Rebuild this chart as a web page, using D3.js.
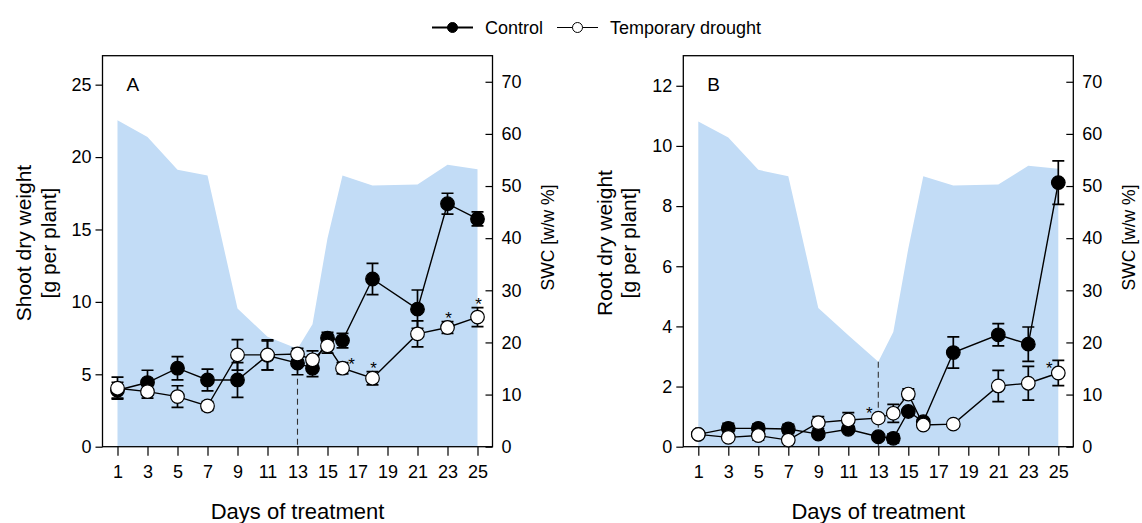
<!DOCTYPE html>
<html>
<head>
<meta charset="utf-8">
<script src="https://cdn.jsdelivr.net/npm/d3@7"></script>
<style>
body { margin: 0; background: #fff; }
svg { font-family: "Liberation Sans", Arial, sans-serif; }
</style>
</head>
<body>
<svg id="chart" width="1142" height="523"></svg>
<script>
// sampling days and x tick labels
var days = [1, 3, 5, 7, 9, 11, 13, 14, 15, 16, 18, 21, 23, 25];
var tickDays = [1, 3, 5, 7, 9, 11, 13, 15, 17, 19, 21, 23, 25];

// soil water content (w/w %), background area
var swcA = [62.6, 59.4, 53.1, 52.0, 26.5, 21.1, 18.8, 23.5, 40, 52.0, 50.1, 50.3, 54.1, 53.2];
var swcB = [62.4, 59.3, 53.1, 51.9, 26.6, 21.4, 16.3, 22.0, 38, 51.9, 50.1, 50.3, 53.9, 53.3];

// shoot dry weight (g per plant)
var shootCtrl      = [3.90, 4.43, 5.42, 4.61, 4.61, 6.30, 5.77, 5.42, 7.50, 7.33, 11.58, 9.50, 16.78, 15.73];
var shootCtrlErr   = [0.55, 0.85, 0.80, 0.75, 1.20, 1.00, 0.80, 0.58, 0.40, 0.50, 1.08, 1.32, 0.72, 0.48];
var shootDrought    = [4.04, 3.80, 3.46, 2.81, 6.34, 6.34, 6.40, 6.00, 6.96, 5.42, 4.73, 7.79, 8.23, 8.95];
var shootDroughtErr = [0.76, 0.45, 0.75, 0.30, 1.05, 1.04, 0.40, 0.62, 0.50, 0.39, 0.46, 0.90, 0.40, 0.66];

// root dry weight (g per plant)
var rootCtrl      = [0.41, 0.61, 0.61, 0.59, 0.42, 0.58, 0.33, 0.28, 1.17, 0.83, 3.13, 3.72, 3.41, 8.78];
var rootCtrlErr   = [0.08, 0.17, 0.15, 0.15, 0.10, 0.08, 0.05, 0.15, 0.10, 0.10, 0.52, 0.37, 0.57, 0.72];
var rootDrought    = [0.41, 0.31, 0.37, 0.22, 0.80, 0.89, 0.95, 1.11, 1.75, 0.72, 0.75, 2.02, 2.11, 2.45];
var rootDroughtErr = [0.10, 0.05, 0.15, 0.05, 0.20, 0.24, 0.08, 0.30, 0.17, 0.08, 0.08, 0.52, 0.56, 0.42];

// significant differences (asterisks) and where the star sits
var sigShoot = [16, 18, 23, 25];
var sigShootSide = ["right", "top", "top", "top"];
var sigRoot = [13, 25];
var sigRootSide = ["left", "left"];

var minDay = 13;

var svg = d3.select("#chart");
var plotTop = 55.7, plotBottom = 446.7;

function zip(vals, errs) {
    return days.map(function(d, i) { return {day: d, v: vals[i], e: errs[i]}; });
}

function drawPanel(opt) {
    var g = svg.append("g");
    var x = d3.scaleLinear().domain([0, 26]).range([opt.left, opt.left + 390]);
    var y = d3.scaleLinear().domain([0, opt.ymax]).range([plotBottom, plotTop]);
    var y2 = d3.scaleLinear().domain([0, 75]).range([plotBottom, plotTop]);

    // SWC area
    var swc = days.map(function(d, i) { return [d, opt.swc[i]]; });
    g.append("path")
        .datum(swc)
        .attr("fill", "#c2dcf6")
        .attr("d", d3.area().x(function(d) { return x(d[0]); })
            .y0(y2(0)).y1(function(d) { return y2(d[1]); }));

    // dashed line at the lowest water content
    var iMin = days.indexOf(minDay);
    g.append("line")
        .attr("x1", x(minDay)).attr("x2", x(minDay))
        .attr("y1", y2(opt.swc[iMin])).attr("y2", plotBottom)
        .attr("stroke", "#333").attr("stroke-width", 1.1)
        .attr("stroke-dasharray", "6,4");

    // frame
    g.append("rect")
        .attr("x", x(0)).attr("y", plotTop)
        .attr("width", x(26) - x(0)).attr("height", plotBottom - plotTop)
        .attr("fill", "none").attr("stroke", "#000").attr("stroke-width", 1.3);

    // axes
    var ax = g.append("g").attr("transform", "translate(0," + plotBottom + ")")
        .call(d3.axisBottom(x).tickValues(tickDays).tickSize(9).tickPadding(10).tickFormat(d3.format("d")));
    var ayl = g.append("g").attr("transform", "translate(" + x(0) + ",0)")
        .call(d3.axisLeft(y).tickValues(opt.yticks).tickSize(7).tickPadding(4));
    var ayr = g.append("g").attr("transform", "translate(" + x(26) + ",0)")
        .call(d3.axisRight(y2).tickValues([0, 10, 20, 30, 40, 50, 60, 70]).tickSizeInner(-7).tickSizeOuter(0).tickPadding(9));
    [ax, ayl, ayr].forEach(function(a) {
        a.select(".domain").remove();
        a.selectAll("line").attr("stroke", "#000").attr("stroke-width", 1.2);
        a.selectAll("text").attr("font-size", 18).attr("fill", "#000")
            .attr("font-family", "Liberation Sans, Arial, sans-serif");
    });
    ayr.selectAll("text").attr("x", 9);

    // series: control first, then drought on top
    var series = [
        {data: zip(opt.ctrl, opt.ctrlErr), fill: "#000"},
        {data: zip(opt.drought, opt.droughtErr), fill: "#fff"}
    ];
    series.forEach(function(s) {
        var sg = g.append("g");
        sg.selectAll(".err").data(s.data).enter().append("path")
            .attr("fill", "none").attr("stroke", "#000").attr("stroke-width", 1.7)
            .attr("d", function(d) {
                var cx = x(d.day), t = y(d.v + d.e), b = y(d.v - d.e);
                return "M" + cx + "," + t + "V" + b +
                    "M" + (cx - 6) + "," + t + "H" + (cx + 6) +
                    "M" + (cx - 6) + "," + b + "H" + (cx + 6);
            });
        sg.append("path").datum(s.data)
            .attr("fill", "none").attr("stroke", "#000").attr("stroke-width", 1.4)
            .attr("d", d3.line().x(function(d) { return x(d.day); }).y(function(d) { return y(d.v); }));
        sg.selectAll("circle").data(s.data).enter().append("circle")
            .attr("cx", function(d) { return x(d.day); })
            .attr("cy", function(d) { return y(d.v); })
            .attr("r", 6.8)
            .attr("fill", s.fill).attr("stroke", "#000").attr("stroke-width", 1.2);
    });

    // asterisks next to the drought points
    opt.sig.forEach(function(day, k) {
        var i = days.indexOf(day);
        var cx = x(day), cy = y(opt.drought[i]);
        var side = opt.sigSide[k];
        var px, py;
        if (side === "top") { px = cx + 1; py = y(opt.drought[i] + opt.droughtErr[i]) - 7; }
        else if (side === "right") { px = cx + 9; py = cy - 7; }
        else { px = cx - 9; py = cy - 8; }
        g.append("text").attr("x", px).attr("y", py + 9)
            .attr("text-anchor", "middle").attr("font-size", 17).text("*");
    });

    // panel letter
    g.append("text").attr("x", x(0) + 24).attr("y", 91)
        .attr("font-size", 19).text(opt.letter);

    // axis titles
    var cxMid = (x(0) + x(26)) / 2;
    g.append("text").attr("x", cxMid).attr("y", 519)
        .attr("text-anchor", "middle").attr("font-size", 22).text("Days of treatment");
    g.append("text").attr("transform", "translate(" + (x(0) - 71.5) + ",243) rotate(-90)")
        .attr("text-anchor", "middle").attr("font-size", 21).text(opt.ylabel);
    g.append("text").attr("transform", "translate(" + (x(0) - 47) + ",243) rotate(-90)")
        .attr("text-anchor", "middle").attr("font-size", 21).text("[g per plant]");
    g.append("text").attr("transform", "translate(" + (x(26) + 61.5) + ",237.5) rotate(-90)")
        .attr("text-anchor", "middle").attr("font-size", 17.5).text("SWC [w/w %]");
}

drawPanel({
    left: 102.5, letter: "A", ylabel: "Shoot dry weight", ymax: 27,
    yticks: [0, 5, 10, 15, 20, 25], swc: swcA,
    ctrl: shootCtrl, ctrlErr: shootCtrlErr, drought: shootDrought, droughtErr: shootDroughtErr,
    sig: sigShoot, sigSide: sigShootSide
});
drawPanel({
    left: 683.3, letter: "B", ylabel: "Root dry weight", ymax: 13,
    yticks: [0, 2, 4, 6, 8, 10, 12], swc: swcB,
    ctrl: rootCtrl, ctrlErr: rootCtrlErr, drought: rootDrought, droughtErr: rootDroughtErr,
    sig: sigRoot, sigSide: sigRootSide
});

// legend
var legend = [
    {label: "Control", fill: "#000", x0: 432, x1: 473, tx: 485, sw: 2},
    {label: "Temporary drought", fill: "#fff", x0: 557, x1: 598, tx: 610, sw: 1.2}
];
var lg = svg.append("g");
legend.forEach(function(l) {
    lg.append("line").attr("x1", l.x0).attr("x2", l.x1).attr("y1", 27.5).attr("y2", 27.5)
        .attr("stroke", "#000").attr("stroke-width", l.sw);
    lg.append("circle").attr("cx", (l.x0 + l.x1) / 2).attr("cy", 27.5).attr("r", 5)
        .attr("fill", l.fill).attr("stroke", "#000").attr("stroke-width", 1);
    lg.append("text").attr("x", l.tx).attr("y", 33.5).attr("font-size", 18).text(l.label);
});
</script>
</body>
</html>
